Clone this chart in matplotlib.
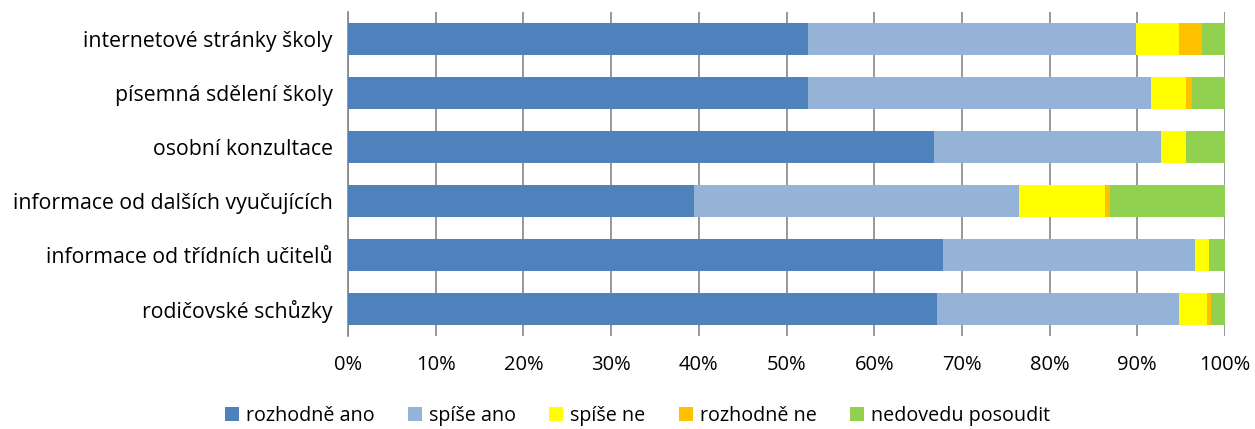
import matplotlib
matplotlib.use("Agg")
import matplotlib.pyplot as plt
import numpy as np

categories = [
    "internetové stránky školy",
    "písemná sdělení školy",
    "osobní konzultace",
    "informace od dalších vyučujících",
    "informace od třídních učitelů",
    "rodičovské schůzky",
]
series_names = ["rozhodně ano", "spíše ano", "spíše ne", "rozhodně ne", "nedovedu posoudit"]
rozhodne_ano = [52.5, 52.4, 66.8, 39.4, 67.8, 67.2]
spise_ano = [37.4, 39.2, 25.9, 37.1, 28.8, 27.5]
spise_ne = [4.9, 4.0, 2.9, 9.8, 1.6, 3.2]
rozhodne_ne = [2.6, 0.6, 0.0, 0.6, 0.0, 0.5]
nedovedu = [2.6, 3.8, 4.4, 13.1, 1.8, 1.6]
xtick_labels = ["0%", "10%", "20%", "30%", "40%", "50%", "60%", "70%", "80%", "90%", "100%"]

colors = ["#4F81BD", "#95B3D7", "#FFFF00", "#FFC000", "#92D050"]

plt.rcParams['font.family'] = ['Open Sans', 'DejaVu Sans']

fig = plt.figure(figsize=(12.55, 4.29), dpi=100)
ax = fig.add_axes([348/1255, 1 - 336/429, (1225 - 348)/1255, (336 - 12)/429])

data = [rozhodne_ano, spise_ano, spise_ne, rozhodne_ne, nedovedu]
y = np.arange(len(categories))
left = np.zeros(len(categories))
for name, vals, c in zip(series_names, data, colors):
    vals = np.array(vals)
    ax.barh(y, vals, left=left, height=0.58, color=c, label=name, zorder=3)
    left += vals

ax.set_ylim(len(categories) - 0.5, -0.5)
ax.set_xlim(0, 100)
ax.set_xticks(np.arange(0, 101, 10))
ax.set_xticklabels(xtick_labels, fontsize=14.5, color="#000000")
ax.set_yticks(y)
ax.set_yticklabels(categories, fontsize=15.3, color="#000000")
ax.tick_params(axis='x', length=0, pad=14)
ax.tick_params(axis='y', length=0, pad=11)
ax.grid(axis='x', color="#868686", linewidth=1.2, zorder=0)
for s in ["top", "right", "bottom"]:
    ax.spines[s].set_visible(False)
ax.spines["left"].set_color("#868686")
ax.spines["left"].set_linewidth(1.2)

fig.legend(loc="center", bbox_to_anchor=(0.508, 1 - 416/429), ncol=5, frameon=False,
           fontsize=14.2, handlelength=0.7, handleheight=0.7, handletextpad=0.35,
           columnspacing=1.7)

fig.savefig("out.png", dpi=100)
